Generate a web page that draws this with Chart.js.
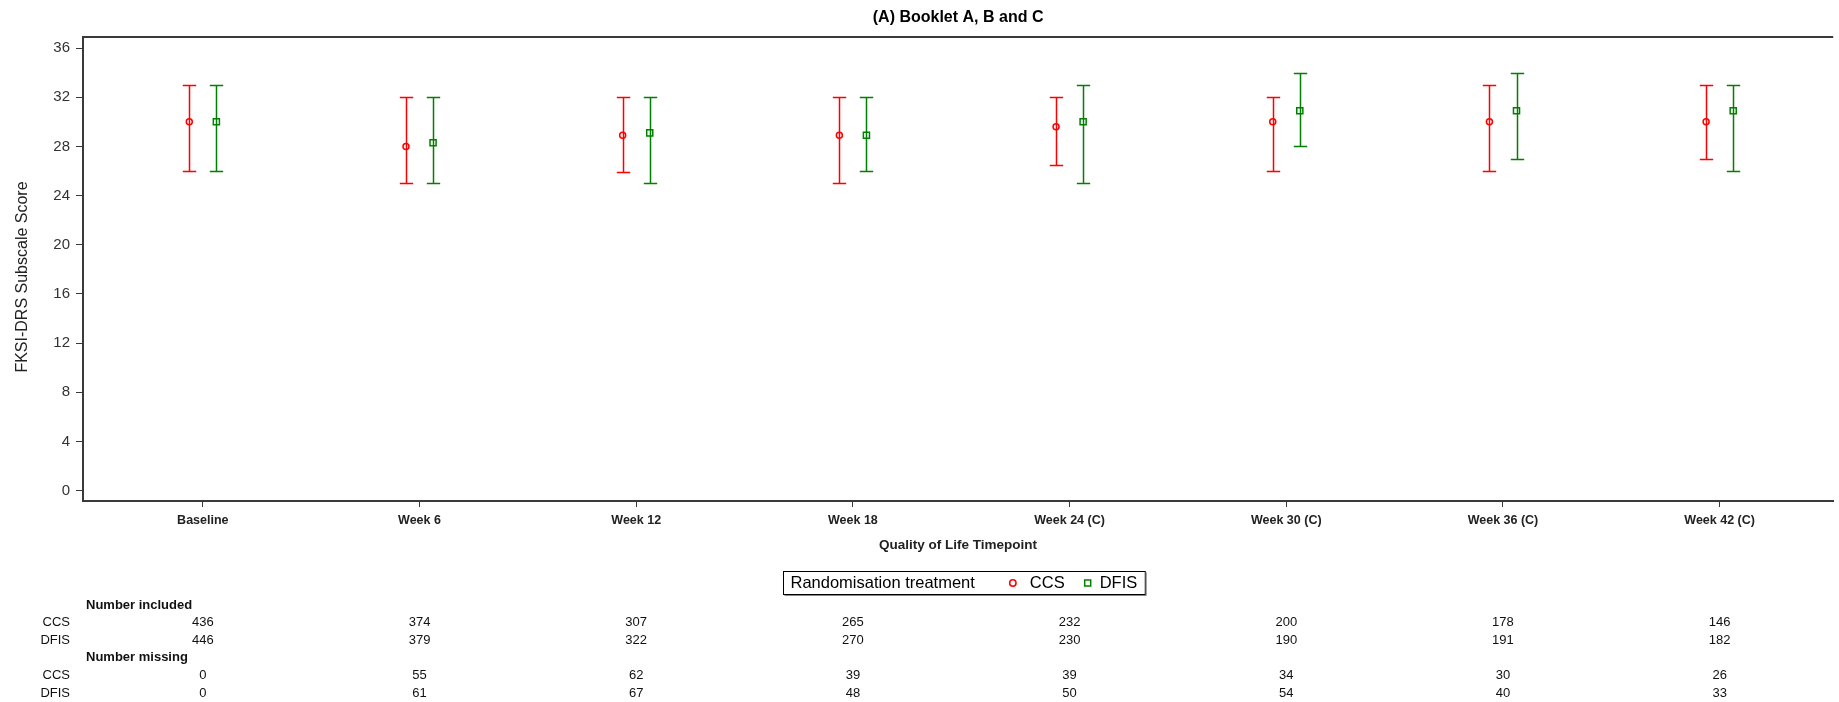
<!DOCTYPE html>
<html>
<head>
<meta charset="utf-8">
<script src="https://cdn.jsdelivr.net/npm/chart.js@4.4.0/dist/chart.umd.min.js"></script>
<style>
  html, body { margin: 0; padding: 0; background: #fff; overflow: hidden; }
  #wrap { width: 1839px; height: 702px; }
</style>
</head>
<body>
<div id="wrap"><canvas id="c" width="1839" height="702"></canvas></div>
<script>
// Quality of life timepoints
const categories = ['Baseline', 'Week 6', 'Week 12', 'Week 18', 'Week 24 (C)', 'Week 30 (C)', 'Week 36 (C)', 'Week 42 (C)'];

// FKSI-DRS subscale score: centre and interval limits per arm
const ccsMean  = [30, 28, 28.9, 28.9, 29.6, 30, 30, 30];
const ccsLower = [26, 25, 25.9, 25, 26.5, 26, 26, 27];
const ccsUpper = [33, 32, 32, 32, 32, 32, 33, 33];

const dfisMean  = [30, 28.3, 29.1, 28.9, 30, 30.9, 30.9, 30.9];
const dfisLower = [26, 25, 25, 26, 25, 28, 27, 26];
const dfisUpper = [33, 32, 32, 32, 33, 34, 34, 33];

// Y axis tick values
const yTicks = [0, 4, 8, 12, 16, 20, 24, 28, 32, 36];

// Patient counts shown under the plot
const ccsIncluded  = [436, 374, 307, 265, 232, 200, 178, 146];
const dfisIncluded = [446, 379, 322, 270, 230, 190, 191, 182];
const ccsMissing   = [0, 55, 62, 39, 39, 34, 30, 26];
const dfisMissing  = [0, 61, 67, 48, 50, 54, 40, 33];

const FONT = "'Liberation Sans', Arial, Helvetica, sans-serif";
const RED = 'rgb(255,0,0)';
const GREEN = 'rgb(0,128,0)';
const AXIS = '#3a3a3a';
const SHIFT = 0.0625;   // side-by-side offset of the two arms, in category units
const CAP = 6.7;        // half width of interval caps, px

const errorBars = {
  id: 'errorBars',
  beforeDatasetsDraw(chart) {
    const { ctx, scales: { x, y } } = chart;
    chart.data.datasets.forEach(ds => {
      ctx.save();
      ctx.strokeStyle = ds.borderColor;
      ctx.lineWidth = 1.5;
      ds.data.forEach((p, i) => {
        const px = Math.round(x.getPixelForValue(p.x)) + 0.5;
        const top = Math.round(y.getPixelForValue(ds.upper[i])) + 0.5;
        const bot = Math.round(y.getPixelForValue(ds.lower[i])) + 0.5;
        ctx.beginPath();
        ctx.moveTo(px, top); ctx.lineTo(px, bot);
        ctx.moveTo(px - CAP, top); ctx.lineTo(px + CAP, top);
        ctx.moveTo(px - CAP, bot); ctx.lineTo(px + CAP, bot);
        ctx.stroke();
      });
      ctx.restore();
    });
  }
};

const decorations = {
  id: 'decorations',
  afterDraw(chart) {
    const { ctx, chartArea: a, scales: { x } } = chart;
    const cx = (a.left + a.right) / 2;
    ctx.save();

    // frame line along the top of the plot
    ctx.strokeStyle = AXIS;
    ctx.lineWidth = 2;
    ctx.beginPath();
    ctx.moveTo(a.left - 1, a.top);
    ctx.lineTo(a.right, a.top);
    ctx.stroke();

    // title
    ctx.fillStyle = '#000';
    ctx.font = 'bold 16px ' + FONT;
    ctx.textAlign = 'center';
    ctx.textBaseline = 'middle';
    ctx.fillText('(A) Booklet A, B and C', cx, 18);

    // y axis title
    ctx.save();
    ctx.translate(23, (a.top + a.bottom) / 2 + 8);
    ctx.rotate(-Math.PI / 2);
    ctx.font = '16px ' + FONT;
    ctx.fillStyle = '#222';
    ctx.fillText('FKSI-DRS Subscale Score', 0, 0);
    ctx.restore();

    // x axis title
    ctx.font = 'bold 13.5px ' + FONT;
    ctx.fillStyle = '#222';
    ctx.fillText('Quality of Life Timepoint', cx, 545);

    // legend
    ctx.font = '16.5px ' + FONT;
    const lead = 'Randomisation treatment';
    const wLead = ctx.measureText(lead).width;
    const wCcs = ctx.measureText('CCS').width;
    const wDfis = ctx.measureText('DFIS').width;
    const boxW = 7 + wLead + 38 + 17 + wCcs + 23 + 12 + wDfis + 8;
    const bx = Math.round(cx + 6 - boxW / 2) + 0.5;
    const by = 571.5, bh = 23;
    ctx.strokeStyle = '#000';
    ctx.lineWidth = 1;
    ctx.strokeRect(bx, by, boxW, bh);
    ctx.strokeStyle = '#888';
    ctx.beginPath();
    ctx.moveTo(bx + 1, by + bh + 1); ctx.lineTo(bx + boxW + 1, by + bh + 1); ctx.lineTo(bx + boxW + 1, by + 1);
    ctx.stroke();
    const ly = by + bh / 2;
    ctx.fillStyle = '#000';
    ctx.textAlign = 'left';
    let lx = bx + 7;
    ctx.fillText(lead, lx, ly);
    lx += wLead + 38;
    ctx.strokeStyle = RED; ctx.lineWidth = 1.5;
    ctx.beginPath(); ctx.arc(lx, ly, 3.2, 0, Math.PI * 2); ctx.stroke();
    lx += 17;
    ctx.fillText('CCS', lx, ly);
    lx += wCcs + 23;
    ctx.strokeStyle = GREEN;
    ctx.strokeRect(lx - 3, ly - 3, 6, 6);
    lx += 12;
    ctx.fillText('DFIS', lx, ly);

    // counts table
    const rows = [
      { head: 'Number included' },
      { label: 'CCS', values: ccsIncluded },
      { label: 'DFIS', values: dfisIncluded },
      { head: 'Number missing' },
      { label: 'CCS', values: ccsMissing },
      { label: 'DFIS', values: dfisMissing }
    ];
    rows.forEach((r, k) => {
      const ry = 605 + k * 17.6;
      if (r.head) {
        ctx.font = 'bold 13px ' + FONT;
        ctx.fillStyle = '#111';
        ctx.textAlign = 'left';
        ctx.fillText(r.head, 86, ry);
      } else {
        ctx.font = '13px ' + FONT;
        ctx.fillStyle = '#111';
        ctx.textAlign = 'right';
        ctx.fillText(r.label, 70, ry);
        ctx.textAlign = 'center';
        r.values.forEach((v, i) => ctx.fillText(String(v), x.getPixelForValue(i), ry));
      }
    });
    ctx.restore();
  }
};

new Chart(document.getElementById('c'), {
  type: 'scatter',
  data: {
    datasets: [
      {
        label: 'CCS',
        data: categories.map((_, i) => ({ x: i - SHIFT, y: ccsMean[i] })),
        lower: ccsLower,
        upper: ccsUpper,
        borderColor: RED,
        backgroundColor: 'rgba(0,0,0,0)',
        pointStyle: 'circle',
        pointRadius: 3,
        borderWidth: 1.5
      },
      {
        label: 'DFIS',
        data: categories.map((_, i) => ({ x: i + SHIFT, y: dfisMean[i] })),
        lower: dfisLower,
        upper: dfisUpper,
        borderColor: GREEN,
        backgroundColor: 'rgba(0,0,0,0)',
        pointStyle: 'rect',
        pointRadius: 4.3,
        borderWidth: 1.5
      }
    ]
  },
  options: {
    responsive: false,
    animation: false,
    devicePixelRatio: 1,
    layout: { padding: { top: 37, left: 0, right: 0, bottom: 0 } },
    plugins: {
      legend: { display: false },
      title: { display: false },
      tooltip: { enabled: false }
    },
    scales: {
      x: {
        type: 'linear',
        min: -0.553,
        max: 7.524,
        afterBuildTicks: s => { s.ticks = categories.map((_, i) => ({ value: i })); },
        afterFit: s => { s.height = 201; },
        grid: { drawOnChartArea: false, drawTicks: true, tickLength: 6, color: AXIS, lineWidth: 1 },
        border: { display: true, color: AXIS, width: 2 },
        ticks: {
          autoSkip: false,
          maxRotation: 0,
          padding: 6,
          color: '#222',
          font: { family: FONT, size: 12.5, weight: 'bold' },
          callback: v => categories[Math.round(v)] ?? ''
        }
      },
      y: {
        type: 'linear',
        min: -0.85,
        max: 36.9,
        afterBuildTicks: s => { s.ticks = yTicks.map(v => ({ value: v })); },
        afterFit: s => { s.width = 83; },
        grid: { drawOnChartArea: false, drawTicks: true, tickLength: 7, color: AXIS, lineWidth: 1 },
        border: { display: true, color: AXIS, width: 2 },
        ticks: {
          padding: 6,
          color: '#333',
          font: { family: FONT, size: 15 },
          callback: v => String(v)
        }
      }
    }
  },
  plugins: [errorBars, decorations]
});
</script>
</body>
</html>
